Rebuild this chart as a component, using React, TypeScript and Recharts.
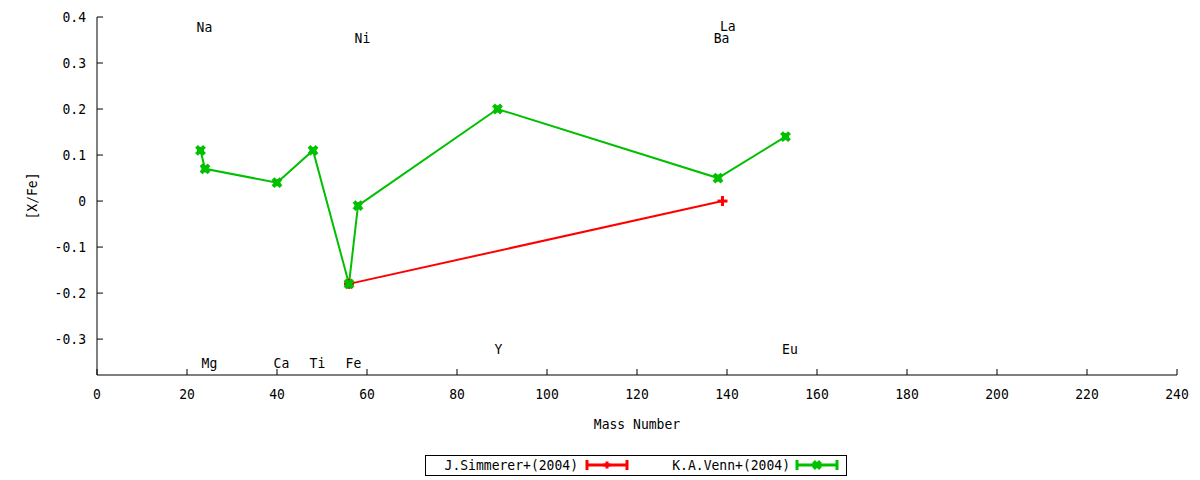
import React from 'react';
import { ComposedChart, Line, Scatter, XAxis, YAxis } from 'recharts';

// [X/Fe] versus mass number
const simmererMass = [56, 139];
const simmererValue = [-0.18, 0.0];

const vennMass = [23, 24, 40, 48, 56, 58, 89, 138, 153];
const vennValue = [0.11, 0.07, 0.04, 0.11, -0.18, -0.01, 0.2, 0.05, 0.14];

// element name labels
const elementNames = ['Na', 'Mg', 'Ca', 'Ti', 'Fe', 'Ni', 'Y', 'Ba', 'La', 'Eu'];
const elementMass = [22.8, 23.9, 39.9, 47.9, 55.9, 57.9, 89, 137.7, 139.1, 152.9];
const elementY = [0.379, -0.352, -0.352, -0.352, -0.352, 0.355, -0.322, 0.355, 0.38, -0.322];

const xTicks = [0, 20, 40, 60, 80, 100, 120, 140, 160, 180, 200, 220, 240];
const yTicks = [-0.3, -0.2, -0.1, 0, 0.1, 0.2, 0.3, 0.4];

const simmererData = simmererMass.map((m, i) => ({ mass: m, value: simmererValue[i] }));
const vennData = vennMass.map((m, i) => ({ mass: m, value: vennValue[i] }));
const labelData = elementNames.map((n, i) => ({ mass: elementMass[i], value: elementY[i], name: n }));

const FONT = '"DejaVu Sans Mono", monospace';
const RED = '#ff0000';
const GREEN = '#00c000';
const TICK = 6;

const fmtY = (v: number) => (Math.abs(v) < 1e-9 ? '0' : v.toFixed(1));

// narrow monospace text like the gnuplot terminal font
const MonoText = ({ x, y, anchor = 'middle', rotate = false, children }: any) => (
  <g transform={`translate(${x},${y})${rotate ? ' rotate(-90)' : ''} scale(0.9,1)`}>
    <text x={0} y={0} dy="0.36em" textAnchor={anchor} fontFamily={FONT} fontSize={14.5} fill="#000">
      {children}
    </text>
  </g>
);

const LeftTick = (p: any) => (
  <g>
    <line x1={p.x + 12} x2={p.x + 12 + TICK} y1={p.y} y2={p.y} stroke="#000" />
    <MonoText x={p.x + 1} y={p.y} anchor="end">{fmtY(p.payload.value)}</MonoText>
  </g>
);

const BottomTick = (p: any) => (
  <g>
    <line x1={p.x} x2={p.x} y1={p.y - 12} y2={p.y - 12 - TICK} stroke="#000" />
    <MonoText x={p.x} y={p.y + 7}>{p.payload.value}</MonoText>
  </g>
);

const TopTick = (p: any) => (
  <line x1={p.x} x2={p.x} y1={p.y} y2={p.y + TICK} stroke="#000" />
);

const RightTick = (p: any) => (
  <line x1={p.x} x2={p.x - TICK} y1={p.y} y2={p.y} stroke="#000" />
);

const GreenX = ({ cx, cy, s = 4 }: { cx: number; cy: number; s?: number }) => (
  <g>
    <rect x={cx - s + 0.5} y={cy - s + 0.5} width={2 * s - 1} height={2 * s - 1} fill={GREEN} />
    <line x1={cx - s} y1={cy - s} x2={cx + s} y2={cy + s} stroke={GREEN} strokeWidth={4} />
    <line x1={cx - s} y1={cy + s} x2={cx + s} y2={cy - s} stroke={GREEN} strokeWidth={4} />
  </g>
);

const RedPlus = ({ cx, cy, s = 5 }: { cx: number; cy: number; s?: number }) => (
  <g>
    <line x1={cx - s} y1={cy} x2={cx + s} y2={cy} stroke={RED} strokeWidth={3} />
    <line x1={cx} y1={cy - s} x2={cx} y2={cy + s} stroke={RED} strokeWidth={3} />
  </g>
);

const ElementLabel = (p: any) => (
  <MonoText x={p.cx - 3} y={p.cy} anchor="start">{p.payload.name}</MonoText>
);

const LegendSample = ({ x, color, Marker }: { x: number; color: string; Marker: any }) => (
  <g>
    <line x1={x} x2={x + 42} y1={10} y2={10} stroke={color} strokeWidth={3} />
    <line x1={x + 1} x2={x + 1} y1={5} y2={15} stroke={color} strokeWidth={3} />
    <line x1={x + 41} x2={x + 41} y1={5} y2={15} stroke={color} strokeWidth={3} />
    <Marker cx={x + 21} cy={10} s={3.5} />
  </g>
);

const App = () => {
  return (
    <div style={{ position: 'absolute', left: 0, top: 0, width: 1200, height: 480, background: '#fff' }}>
      <ComposedChart width={1200} height={480} margin={{ top: 17, right: 23, bottom: 75, left: 37 }}>
        <XAxis
          xAxisId="bottom"
          dataKey="mass"
          type="number"
          domain={[0, 240]}
          ticks={xTicks}
          height={30}
          tickSize={0}
          tickMargin={12}
          tickLine={false}
          axisLine={{ stroke: '#000' }}
          tick={<BottomTick />}
          interval={0}
          allowDataOverflow
          label={(p: any) => (
            <MonoText x={p.viewBox.x + p.viewBox.width / 2} y={p.viewBox.y + 49}>Mass Number</MonoText>
          )}
        />
        <XAxis
          xAxisId="top"
          orientation="top"
          dataKey="mass"
          type="number"
          domain={[0, 240]}
          ticks={xTicks}
          height={0}
          tickSize={0}
          tickLine={false}
          axisLine={{ stroke: '#000' }}
          tick={<TopTick />}
          interval={0}
          allowDataOverflow
        />
        <YAxis
          yAxisId="left"
          type="number"
          domain={[-0.378, 0.4]}
          ticks={yTicks}
          width={60}
          tickSize={0}
          tickMargin={12}
          tickLine={false}
          axisLine={{ stroke: '#000' }}
          tick={<LeftTick />}
          interval={0}
          allowDataOverflow
          label={(p: any) => (
            <MonoText x={32} y={p.viewBox.y + p.viewBox.height / 2} rotate>[X/Fe]</MonoText>
          )}
        />
        <YAxis
          yAxisId="right"
          orientation="right"
          type="number"
          domain={[-0.378, 0.4]}
          ticks={yTicks}
          width={0}
          tickSize={0}
          tickLine={false}
          axisLine={{ stroke: '#000' }}
          tick={<RightTick />}
          interval={0}
          allowDataOverflow
        />
        <Line
          xAxisId="bottom"
          yAxisId="left"
          data={simmererData}
          dataKey="value"
          type="linear"
          stroke={RED}
          strokeWidth={2}
          isAnimationActive={false}
          dot={(p: any) => <RedPlus key={`r${p.index}`} cx={p.cx} cy={p.cy} />}
          activeDot={false}
        />
        <Line
          xAxisId="bottom"
          yAxisId="left"
          data={vennData}
          dataKey="value"
          type="linear"
          stroke={GREEN}
          strokeWidth={2}
          isAnimationActive={false}
          dot={(p: any) => <GreenX key={`g${p.index}`} cx={p.cx} cy={p.cy} />}
          activeDot={false}
        />
        <Scatter
          xAxisId="bottom"
          yAxisId="left"
          data={labelData}
          dataKey="value"
          isAnimationActive={false}
          shape={<ElementLabel />}
        />
      </ComposedChart>
      <svg width={423} height={22} style={{ position: 'absolute', left: 425, top: 455 }}>
        <rect x={0.5} y={0.5} width={421} height={20} fill="#fff" stroke="#000" />
        <MonoText x={153} y={10} anchor="end">J.Simmerer+(2004)</MonoText>
        <LegendSample x={161} color={RED} Marker={RedPlus} />
        <MonoText x={365} y={10} anchor="end">K.A.Venn+(2004)</MonoText>
        <LegendSample x={371} color={GREEN} Marker={GreenX} />
      </svg>
    </div>
  );
};

export default App;
